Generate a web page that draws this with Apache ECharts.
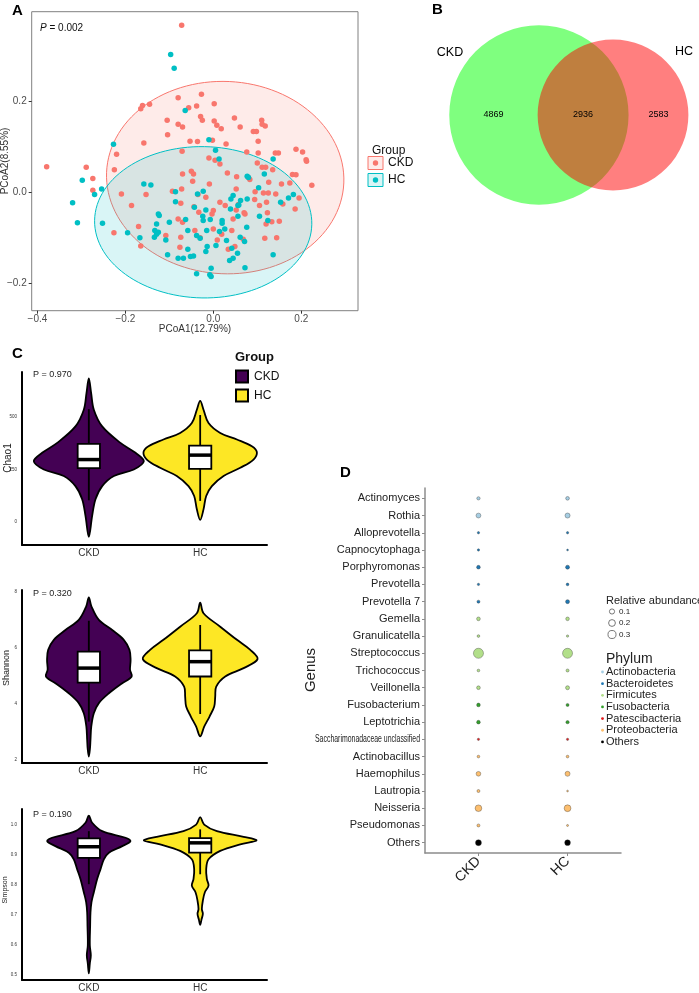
<!DOCTYPE html>
<html><head><meta charset="utf-8">
<script src="https://cdn.jsdelivr.net/npm/echarts@6/dist/echarts.min.js"></script>
<style>html,body{margin:0;padding:0;background:#fff}#c{width:699px;height:993px}</style>
</head><body><div id="c"></div>
<script>
// ================= DATA =================
// Panel A: PCoA coordinates [PCoA1, PCoA2]
const ckdPCoA = [
[-0.072,0.366],[-0.379,0.056],[-0.289,0.055],[-0.274,0.030],[-0.274,0.004],[-0.225,0.049],[-0.220,0.083],[-0.158,0.108],[-0.165,0.183],[-0.161,0.190],
[-0.145,0.193],[-0.105,0.158],[-0.104,0.126],[-0.080,0.207],[-0.080,0.149],[-0.070,0.143],[-0.071,0.090],[-0.056,0.185],[-0.038,0.189],[-0.027,0.215],
[-0.029,0.166],[-0.025,0.158],[0.002,0.194],[0.002,0.156],[0.008,0.147],[0.018,0.139],[-0.053,0.112],[-0.036,0.111],[-0.002,0.114],[0.029,0.106],
[0.048,0.163],[0.061,0.143],[0.076,0.088],[0.091,0.133],[0.098,0.133],[0.110,0.158],[0.111,0.149],[0.118,0.145],[0.102,0.112],[0.102,0.086],
[0.100,0.064],[0.111,0.055],[0.119,0.055],[0.135,0.049],[0.141,0.086],[0.148,0.086],[0.188,0.094],[0.203,0.088],[0.211,0.071],[0.212,0.068],
[0.180,0.039],[0.188,0.038],[0.224,0.015],[0.174,0.020],[0.155,0.018],[0.195,-0.013],[0.186,-0.037],[0.158,-0.026],[0.150,-0.064],[0.144,-0.100],
[0.117,-0.101],[0.133,-0.065],[0.120,-0.070],[0.123,-0.045],[0.121,-0.022],[0.125,-0.002],[0.114,-0.002],[0.142,-0.004],[0.126,0.022],[0.095,0.001],
[0.083,0.028],[0.079,0.033],[0.053,0.034],[0.052,0.007],[0.032,0.042],[0.027,-0.029],[0.045,-0.059],[0.052,-0.039],[0.057,-0.027],[0.070,-0.045],
[0.042,-0.084],[0.019,-0.092],[0.009,-0.105],[0.000,-0.040],[-0.003,-0.048],[-0.009,0.018],[-0.010,0.075],[0.004,0.070],[0.015,0.062],[0.015,-0.022],
[-0.017,-0.011],[-0.033,-0.044],[-0.044,-0.032],[-0.047,0.024],[-0.050,0.046],[-0.045,0.040],[-0.070,0.040],[-0.072,0.007],[-0.093,0.002],[-0.074,-0.024],
[-0.080,-0.059],[-0.070,-0.066],[-0.074,-0.099],[-0.076,-0.121],[-0.108,-0.095],[-0.170,-0.075],[-0.165,-0.118],[-0.186,-0.029],[-0.209,-0.004],[-0.153,-0.005],
[-0.226,-0.089],[-0.042,-0.084],[-0.030,-0.100],[0.000,-0.081],[0.049,-0.119],[0.034,-0.125],[0.068,-0.103],[0.105,-0.029],[0.072,-0.048],[0.094,-0.016],
[-0.035,-0.005]
];
const hcPCoA = [
[-0.097,0.302],[-0.089,0.272],[-0.064,0.179],[-0.010,0.115],[0.005,0.092],[0.013,0.073],[-0.227,0.105],[-0.298,0.026],[-0.320,-0.023],[-0.309,-0.067],
[-0.270,-0.005],[-0.254,0.007],[-0.252,-0.068],[-0.195,-0.089],[-0.167,-0.100],[-0.158,0.018],[-0.142,0.016],[-0.125,-0.048],[-0.123,-0.051],[-0.129,-0.070],
[-0.133,-0.084],[-0.129,-0.092],[-0.125,-0.088],[-0.134,-0.099],[-0.108,-0.105],[-0.104,-0.137],[-0.100,-0.066],[-0.086,0.001],[-0.086,-0.021],[-0.080,-0.145],
[-0.068,-0.145],[-0.063,-0.060],[-0.058,-0.084],[-0.058,-0.125],[-0.052,-0.141],[-0.045,-0.140],[-0.043,-0.033],[-0.038,-0.179],[-0.038,-0.095],[-0.036,-0.004],
[-0.030,-0.101],[-0.024,-0.053],[-0.023,-0.062],[-0.017,-0.130],[-0.015,-0.084],[-0.014,-0.119],[-0.007,-0.060],[-0.005,-0.167],[-0.005,-0.185],[0.006,-0.117],
[0.014,-0.086],[0.020,-0.062],[0.020,-0.068],[0.026,-0.081],[0.030,-0.106],[0.039,-0.037],[0.040,-0.015],[0.042,-0.123],[0.045,-0.145],[0.055,-0.134],
[0.056,-0.053],[0.058,-0.028],[0.062,-0.018],[0.061,-0.099],[0.071,-0.108],[0.072,-0.166],[0.076,-0.077],[0.077,-0.015],[0.077,0.035],[0.080,0.032],
[0.103,0.010],[0.105,-0.053],[0.116,0.040],[0.124,-0.062],[0.136,0.073],[0.136,-0.137],[0.153,-0.022],[0.171,-0.013],[0.182,-0.005],[0.045,-0.007],
[-0.017,-0.039],[-0.023,0.002],[-0.008,-0.181],[0.037,-0.150],[0.056,-0.029]
];
// confidence ellipses: [cx, cy, rx, ry, angleDeg]
const ckdEllipse = [0.027, 0.032, 0.270, 0.211, -2.5];
const hcEllipse = [-0.023, -0.066, 0.247, 0.166, -1.0];
const pcoaXTicks = [-0.4, -0.2, 0, 0.2];
const pcoaYTicks = [-0.2, 0, 0.2];

// Panel B: Venn counts [CKD only, shared, HC only]
const vennSets = ['CKD', 'HC'];
const vennCounts = [4869, 2936, 2583];

// Panel C: groups, violin profiles [value, half-width], box stats [lowWhisker, q1, median, q3, highWhisker]
const groups = ['CKD', 'HC'];
const chao1CKD = [[682,0],[612,0.021],[533,0.045],[454,0.12],[376,0.284],[329,0.419],[289,0.494],[250,0.404],[219,0.225],[171,0.12],[109,0.06],[30,0.03],[-69,0]];
const chao1HC = [[575,0],[533,0.03],[470,0.075],[423,0.18],[392,0.33],[360,0.464],[332,0.509],[297,0.479],[258,0.36],[219,0.21],[171,0.105],[124,0.054],[61,0.03],[11,0]];
const shannonCKD = [[7.82,0],[7.49,0.024],[7.01,0.09],[6.65,0.21],[6.30,0.314],[5.94,0.365],[5.58,0.375],[5.23,0.37],[4.99,0.385],[4.75,0.30],[4.39,0.18],[4.04,0.09],[3.68,0.045],[3.20,0.022],[2.73,0.015],[2.40,0.01],[2.13,0]];
const shannonHC = [[7.63,0],[7.25,0.03],[6.77,0.18],[6.30,0.33],[5.94,0.45],[5.61,0.515],[5.29,0.39],[4.99,0.225],[4.63,0.144],[4.27,0.135],[3.92,0.126],[3.56,0.084],[3.20,0.036],[2.85,0]];
const simpsonCKD = [[1.032,0],[1.008,0.03],[0.980,0.12],[0.958,0.33],[0.947,0.374],[0.930,0.30],[0.908,0.18],[0.886,0.135],[0.853,0.105],[0.820,0.075],[0.776,0.045],[0.743,0.024],[0.709,0.015],[0.665,0.012],[0.599,0.009],[0.566,0.018],[0.538,0.009],[0.505,0]];
const simpsonHC = [[1.027,0],[1.002,0.036],[0.980,0.15],[0.961,0.39],[0.949,0.506],[0.936,0.36],[0.914,0.18],[0.886,0.075],[0.853,0.054],[0.820,0.06],[0.798,0.075],[0.776,0.042],[0.748,0.024],[0.720,0.015],[0.704,0.024],[0.685,0.012],[0.667,0]];
const chao1Box = [[104,256,297,371,536],[101,253,318,363,508]];
const shannonBox = [[3.38,4.77,5.29,5.88,6.98],[3.65,4.99,5.52,5.92,6.83]];
const simpsonBox = [[0.803,0.891,0.928,0.956,0.980],[0.836,0.908,0.941,0.957,0.986]];
const chao1Ticks = [0, 250, 500];
const shannonTicks = [2, 4, 6, 8];
const simpsonTicks = [0.5, 0.6, 0.7, 0.8, 0.9, 1.0];
const pValues = ['P = 0.970', 'P = 0.320', 'P = 0.190'];

// Panel D: genus relative abundance
const genus = ['Actinomyces','Rothia','Alloprevotella','Capnocytophaga','Porphyromonas','Prevotella','Prevotella 7','Gemella','Granulicatella','Streptococcus','Trichococcus','Veillonella','Fusobacterium','Leptotrichia','Saccharimonadaceae unclassified','Actinobacillus','Haemophilus','Lautropia','Neisseria','Pseudomonas','Others'];
const genusPhylum = ['Actinobacteria','Actinobacteria','Bacteroidetes','Bacteroidetes','Bacteroidetes','Bacteroidetes','Bacteroidetes','Firmicutes','Firmicutes','Firmicutes','Firmicutes','Firmicutes','Fusobacteria','Fusobacteria','Patescibacteria','Proteobacteria','Proteobacteria','Proteobacteria','Proteobacteria','Proteobacteria','Others'];
const abundCKD = [0.028,0.085,0.008,0.008,0.040,0.008,0.021,0.040,0.014,0.500,0.014,0.040,0.040,0.040,0.008,0.014,0.078,0.021,0.190,0.021,0.147];
const abundHC  = [0.040,0.095,0.008,0.002,0.050,0.014,0.050,0.038,0.008,0.490,0.021,0.050,0.021,0.028,0.008,0.014,0.092,0.002,0.200,0.004,0.130];
const phyla = ['Actinobacteria','Bacteroidetes','Firmicutes','Fusobacteria','Patescibacteria','Proteobacteria','Others'];
const phylumColors = ['#A6CEE3','#1F78B4','#B2DF8A','#33A02C','#E31A1C','#FDBF6F','#000000'];
const sizeBreaks = [0.1, 0.2, 0.3];

// ================= STYLE / HELPERS =================
const FONT = "'Liberation Sans', Arial, Helvetica, sans-serif";
const RED = '#F8766D', TEAL = '#00BFC4';
const PURPLE = '#440154', YELLOW = '#FDE725';
const minus = v => String(v).replace('-', '\u2212');
const sizeFn = v => 1.2 + 12.5 * Math.sqrt(v);
const LONG_LABEL_WIDTH = 105; // condensed label width in reference

function ellipseRender(params, api) {
  const cx = api.value(0), cy = api.value(1), rx = api.value(2), ry = api.value(3), a = api.value(4) * Math.PI / 180;
  const pts = [];
  for (let i = 0; i < 120; i++) {
    const t = i / 120 * Math.PI * 2;
    const x = cx + rx * Math.cos(t) * Math.cos(a) - ry * Math.sin(t) * Math.sin(a);
    const y = cy + rx * Math.cos(t) * Math.sin(a) + ry * Math.sin(t) * Math.cos(a);
    pts.push(api.coord([x, y]));
  }
  const col = params.dataIndex === 0 ? RED : TEAL;
  return { type: 'polygon', shape: { points: pts },
    style: { fill: echarts.color.modifyAlpha(col, 0.15), stroke: col, lineWidth: 1 } };
}

function violinRender(profiles) {
  return function (params, api) {
    const i = params.dataIndex, xc = api.value(0), prof = profiles[i];
    const pts = [];
    for (let k = 0; k < prof.length; k++) pts.push(api.coord([xc + prof[k][1], prof[k][0]]));
    for (let k = prof.length - 2; k >= 1; k--) pts.push(api.coord([xc - prof[k][1], prof[k][0]]));
    return { type: 'polygon', shape: { points: pts, smooth: 0.35 },
      style: { fill: i === 0 ? PURPLE : YELLOW, stroke: '#000', lineWidth: 1.8 } };
  };
}

function boxRender(params, api) {
  const x = api.value(0), hw = 0.1;
  const lo = api.coord([x, api.value(1)]), hi = api.coord([x, api.value(5)]);
  const tl = api.coord([x - hw, api.value(4)]), br = api.coord([x + hw, api.value(2)]);
  const ml = api.coord([x - hw, api.value(3)]), mr = api.coord([x + hw, api.value(3)]);
  return { type: 'group', children: [
    { type: 'line', shape: { x1: lo[0], y1: lo[1], x2: hi[0], y2: hi[1] }, style: { stroke: '#000', lineWidth: 1.8 } },
    { type: 'rect', shape: { x: tl[0], y: tl[1], width: br[0] - tl[0], height: br[1] - tl[1] }, style: { fill: '#fff', stroke: '#000', lineWidth: 1.8 } },
    { type: 'line', shape: { x1: ml[0], y1: ml[1], x2: mr[0], y2: mr[1] }, style: { stroke: '#000', lineWidth: 3.5 } }
  ] };
}

// Venn geometry (area-proportional)
function lensArea(r1, r2, d) {
  if (d >= r1 + r2) return 0;
  if (d <= Math.abs(r1 - r2)) return Math.PI * Math.min(r1, r2) ** 2;
  const a = r1 * r1 * Math.acos((d * d + r1 * r1 - r2 * r2) / (2 * d * r1));
  const b = r2 * r2 * Math.acos((d * d + r2 * r2 - r1 * r1) / (2 * d * r2));
  const c = 0.5 * Math.sqrt((-d + r1 + r2) * (d + r1 - r2) * (d - r1 + r2) * (d + r1 + r2));
  return a + b - c;
}
const vR1 = Math.sqrt((vennCounts[0] + vennCounts[1]) / Math.PI);
const vR2 = Math.sqrt((vennCounts[1] + vennCounts[2]) / Math.PI);
let lo = Math.abs(vR1 - vR2) + 1e-6, hi = vR1 + vR2;
for (let i = 0; i < 60; i++) { const m = (lo + hi) / 2; if (lensArea(vR1, vR2, m) > vennCounts[1]) lo = m; else hi = m; }
const vD = (lo + hi) / 2;

function vennRender(params, api) {
  const c1 = api.coord([0, 0]), c2 = api.coord([vD, 0]);
  const s = api.size([1, 0])[0];
  const xA = (-vR1 + (vD - vR2)) / 2, xB = ((vD - vR2) + vR1) / 2, xC = (vR1 + vD + vR2) / 2;
  const tA = api.coord([xA, 0]), tB = api.coord([xB, 0]), tC = api.coord([xC, 0]);
  const ts = (p, t) => ({ type: 'text', x: p[0], y: p[1], style: { text: String(t), fill: '#000', fontSize: 9, fontFamily: FONT, align: 'center', verticalAlign: 'middle' } });
  return { type: 'group', children: [
    { type: 'circle', shape: { cx: c1[0], cy: c1[1], r: vR1 * s }, style: { fill: 'rgba(0,255,0,0.5)', stroke: null } },
    { type: 'circle', shape: { cx: c2[0], cy: c2[1], r: vR2 * s }, style: { fill: 'rgba(255,0,0,0.5)', stroke: null } },
    ts(tA, vennCounts[0]), ts(tB, vennCounts[1]), ts(tC, vennCounts[2])
  ] };
}

// ================= OPTION =================
const cGrids = [{ top: 372, height: 173 }, { top: 590, height: 173 }, { top: 809, height: 173 }];
const cY = [
  { min: -108, max: 712, ticks: chao1Ticks, fmt: v => String(v), prof: [chao1CKD, chao1HC], box: chao1Box },
  { min: 1.9, max: 8.08, ticks: shannonTicks, fmt: v => String(v), prof: [shannonCKD, shannonHC], box: shannonBox },
  { min: 0.483, max: 1.054, ticks: simpsonTicks, fmt: v => v.toFixed(1), prof: [simpsonCKD, simpsonHC], box: simpsonBox }
];

const grids = [
  { left: 31.7, top: 11.7, width: 326.3, height: 299, show: true, borderColor: '#808080', borderWidth: 1 },
  { left: 440, top: 15, width: 260, height: 200 }
];
cGrids.forEach(g => grids.push({ left: 22, width: 245, top: g.top, height: g.height }));
grids.push({ left: 425, top: 488, width: 196, height: 365 });

const xAxes = [
  { gridIndex: 0, type: 'value', min: -0.413, max: 0.329, axisLine: { show: false, onZero: false },
    axisTick: { show: true, length: 3, customValues: pcoaXTicks, lineStyle: { color: '#333' } },
    axisLabel: { customValues: pcoaXTicks, formatter: v => minus(v.toFixed(1)), fontSize: 10, color: '#4d4d4d', margin: 4 },
    splitLine: { show: false } },
  { gridIndex: 1, type: 'value', min: -55, max: 89, show: false }
];
const yAxes = [
  { gridIndex: 0, type: 'value', min: -0.26, max: 0.396, axisLine: { show: false, onZero: false },
    axisTick: { show: true, length: 3, customValues: pcoaYTicks, lineStyle: { color: '#333' } },
    axisLabel: { customValues: pcoaYTicks, formatter: v => minus(v.toFixed(1)), fontSize: 10, color: '#4d4d4d', margin: 5 },
    splitLine: { show: false } },
  { gridIndex: 1, type: 'value', min: -55.4, max: 55.4, show: false }
];
cY.forEach((c, k) => {
  xAxes.push({ gridIndex: 2 + k, type: 'value', min: 0.4, max: 2.6,
    axisLine: { show: true, onZero: false, lineStyle: { color: '#000', width: 2 } },
    axisTick: { show: false },
    axisLabel: { customValues: [1, 2], formatter: v => groups[Math.round(v) - 1], fontSize: 10, color: '#333', margin: 3 },
    splitLine: { show: false } });
  yAxes.push({ gridIndex: 2 + k, type: 'value', min: c.min, max: c.max,
    axisLine: { show: true, onZero: false, lineStyle: { color: '#000', width: 2 } },
    axisTick: { show: false },
    axisLabel: { customValues: c.ticks, formatter: c.fmt, fontSize: 4.5, color: '#333', margin: 5 },
    splitLine: { show: false } });
});
const genusIdx = genus.map((g, i) => i + 1);
const longIdx = genus.findIndex(n => n.length > 20);
xAxes.push({ gridIndex: 5, type: 'value', min: 0.4, max: 2.6,
  axisLine: { show: true, onZero: false, lineStyle: { color: '#8c8c8c', width: 1.5 } },
  axisTick: { show: true, length: 3, customValues: [1, 2], lineStyle: { color: '#8c8c8c' } },
  axisLabel: { customValues: [1, 2], formatter: v => groups[Math.round(v) - 1], rotate: 45, fontSize: 14, color: '#222', margin: 6 },
  splitLine: { show: false } });
yAxes.push({ gridIndex: 5, type: 'value', min: 0.4, max: 21.6, inverse: true,
  axisLine: { show: true, onZero: false, lineStyle: { color: '#8c8c8c', width: 1.5 } },
  axisTick: { show: true, length: 3, customValues: genusIdx, lineStyle: { color: '#8c8c8c' } },
  axisLabel: { customValues: genusIdx, fontSize: 11, color: '#222', margin: 5,
    formatter: v => { const i = Math.round(v) - 1; return i === longIdx ? '' : genus[i]; } },
  splitLine: { show: false } });

const series = [
  { type: 'custom', xAxisIndex: 0, yAxisIndex: 0, renderItem: ellipseRender, data: [ckdEllipse, hcEllipse], z: 1, silent: true },
  { type: 'scatter', xAxisIndex: 0, yAxisIndex: 0, data: ckdPCoA, symbolSize: 5.5, itemStyle: { color: RED, opacity: 1 }, z: 3 },
  { type: 'scatter', xAxisIndex: 0, yAxisIndex: 0, data: hcPCoA, symbolSize: 5.5, itemStyle: { color: TEAL, opacity: 1 }, z: 3 },
  { type: 'custom', xAxisIndex: 1, yAxisIndex: 1, renderItem: vennRender, data: [[0, 0]] }
];
cY.forEach((c, k) => {
  series.push({ type: 'custom', xAxisIndex: 2 + k, yAxisIndex: 2 + k, renderItem: violinRender(c.prof),
    data: [[1, c.box[0][2]], [2, c.box[1][2]]], z: 2 });
  series.push({ type: 'custom', xAxisIndex: 2 + k, yAxisIndex: 2 + k, renderItem: boxRender,
    data: c.box.map((b, i) => [i + 1].concat(b)), z: 3 });
});
const dData = [];
genus.forEach((g, i) => {
  const ph = phyla.indexOf(genusPhylum[i]);
  dData.push([1, i + 1, abundCKD[i], ph]);
  dData.push([2, i + 1, abundHC[i], ph]);
});
series.push({ type: 'scatter', xAxisIndex: 5, yAxisIndex: 5, data: dData,
  symbolSize: v => sizeFn(v[2]),
  itemStyle: { color: p => phylumColors[p.data[3]], borderColor: 'rgba(50,50,50,0.6)', borderWidth: 0.6, opacity: 1 } });

// ---------- graphic texts / legends ----------
const T = (text, x, y, o = {}) => ({ type: 'text', x, y, rotation: o.rot || 0, scaleX: o.sx || 1, z: 10,
  style: Object.assign({ text, fill: o.color || '#222', fontSize: o.size || 10, fontWeight: o.weight || 'normal',
    fontFamily: o.family || FONT, align: o.align || 'left', verticalAlign: 'middle' }, o.rich ? { rich: o.rich } : {}) });
const els = [];
// panel labels
els.push(T('A', 12, 11, { size: 15, weight: 'bold', color: '#000' }));
els.push(T('B', 432, 10, { size: 15, weight: 'bold', color: '#000' }));
els.push(T('C', 12, 354, { size: 15, weight: 'bold', color: '#000' }));
els.push(T('D', 340, 473, { size: 15, weight: 'bold', color: '#000' }));
// Panel A texts
els.push(T('{i|P} = 0.002', 40, 28, { size: 10, color: '#111', rich: { i: { fontStyle: 'italic', fontSize: 10, fontFamily: FONT, fill: '#111' } } }));
els.push(T('PCoA1(12.79%)', 195, 329, { size: 10, color: '#333', align: 'center' }));
els.push(T('PCoA2(8.55%)', 5, 161, { size: 10, color: '#333', align: 'center', rot: Math.PI / 2 }));
els.push(T('Group', 372, 151, { size: 12, color: '#111' }));
[[RED, 'CKD', 163], [TEAL, 'HC', 180]].forEach(([c, t, y]) => {
  els.push({ type: 'rect', shape: { x: 368, y: y - 6.5, width: 15, height: 13 }, style: { fill: echarts.color.modifyAlpha(c, 0.15), stroke: c, lineWidth: 1 } });
  els.push({ type: 'circle', shape: { cx: 375.5, cy: y, r: 2.7 }, style: { fill: c } });
  els.push(T(t, 388, y, { size: 12, color: '#111' }));
});
// Panel B set labels
els.push(T(vennSets[0], 450, 53, { size: 12.5, color: '#000', align: 'center' }));
els.push(T(vennSets[1], 684, 52, { size: 12.5, color: '#000', align: 'center' }));
// Panel C texts
[['Chao1', 8.5, 458, 10], ['Shannon', 6.5, 668, 9], ['Simpson', 5.5, 890, 7]].forEach(([t, x, y, s]) =>
  els.push(T(t, x, y, { size: s, color: '#222', align: 'center', rot: Math.PI / 2 })));
[375, 594, 815].forEach((y, k) => els.push(T(pValues[k], 33, y, { size: 9, color: '#222' })));
els.push(T('Group', 235, 357, { size: 13, weight: 'bold', color: '#111' }));
[[PURPLE, 'CKD', 376.5], [YELLOW, 'HC', 395.5]].forEach(([c, t, y]) => {
  els.push({ type: 'rect', shape: { x: 236, y: y - 6, width: 12, height: 12 }, style: { fill: c, stroke: '#000', lineWidth: 2 } });
  els.push(T(t, 254, y, { size: 12, color: '#111' }));
});
// Panel D texts & legends
els.push(T('Genus', 311, 670, { size: 15, color: '#222', align: 'center', rot: Math.PI / 2 }));
els.push(T('Relative abundance', 606, 601, { size: 11, color: '#222' }));
sizeBreaks.forEach((b, i) => {
  const y = 611.5 + i * 11.5;
  els.push({ type: 'circle', shape: { cx: 612, cy: y, r: sizeFn(b) / 2 }, style: { fill: 'none', stroke: '#555', lineWidth: 0.8 } });
  els.push(T(b.toFixed(1), 619, y, { size: 8, color: '#222' }));
});
els.push(T('Phylum', 606, 659, { size: 14, color: '#222' }));
phyla.forEach((p, i) => {
  const y = 672 + i * 11.65;
  els.push({ type: 'circle', shape: { cx: 602.5, cy: y, r: 1.4 }, style: { fill: phylumColors[i] } });
  els.push(T(p, 606, y, { size: 11, color: '#222' }));
});

const option = {
  animation: false,
  textStyle: { fontFamily: FONT },
  grid: grids, xAxis: xAxes, yAxis: yAxes, series,
  graphic: { elements: els }
};
const chart = echarts.init(document.getElementById('c'), null, { renderer: 'canvas' });
chart.setOption(option);

// condensed long genus label, positioned through the axis scale
(function () {
  const ctx = document.createElement('canvas').getContext('2d');
  ctx.font = "11px 'Liberation Sans', Arial, sans-serif";
  const w = ctx.measureText(genus[longIdx]).width;
  const yPix = chart.convertToPixel({ yAxisIndex: 5 }, longIdx + 1);
  const xPix = chart.convertToPixel({ xAxisIndex: 5 }, 0.4) - 5;
  els.push(T(genus[longIdx], xPix, yPix, { size: 11, color: '#222', align: 'right', sx: LONG_LABEL_WIDTH / w }));
  chart.setOption({ graphic: { elements: els } });
})();
</script></body></html>
